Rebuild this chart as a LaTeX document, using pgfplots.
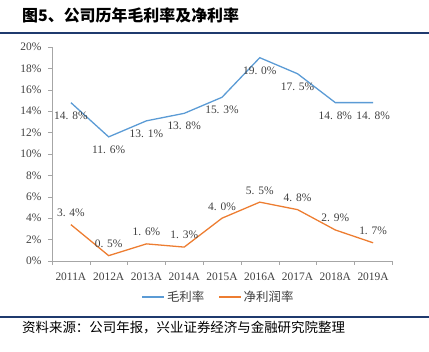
\documentclass[border=0pt]{standalone}
\usepackage{fontspec}
\setmainfont{Liberation Serif}
\newfontfamily\cjk{Noto Sans CJK SC}
\usepackage{pgfplots}
\pgfplotsset{compat=1.18}
\definecolor{cblue}{HTML}{5B9BD5}
\definecolor{corange}{HTML}{ED7D31}
\definecolor{rule}{HTML}{1F3A6E}
\definecolor{axgray}{HTML}{A6A6A6}
\definecolor{txt}{HTML}{404040}
\begin{document}
\begin{tikzpicture}
\path[use as bounding box] (0bp,0bp) rectangle (429bp,352bp);
% title and rules
\node[anchor=west, inner sep=0pt] at (22bp,337bp) {\cjk\bfseries\fontsize{16}{18}\selectfont 图5、公司历年毛利率及净利率};
\fill[rule] (0bp,318bp) rectangle (429bp,320bp);
\fill[rule] (0bp,34bp) rectangle (429bp,36bp);
\node[anchor=west, inner sep=0pt] at (22bp,24bp) {\cjk\fontsize{13.5}{15}\selectfont 资料来源：公司年报，兴业证券经济与金融研究院整理};
\begin{axis}[
  at={(52bp,91bp)}, anchor=south west,
  scale only axis, width=340bp, height=214bp,
  xmin=-0.5, xmax=8.5, ymin=0, ymax=20,
  axis x line*=bottom, axis y line*=left,
  axis line style={axgray, -},
  xtick={0,...,8},
  xticklabels={2011A,2012A,2013A,2014A,2015A,2016A,2017A,2018A,2019A},
  major x tick style={draw=none},
  minor xtick={-0.5,0.5,...,8.5},
  minor x tick style={axgray},
  minor tick length=4bp,
  ytick={0,2,...,20},
  yticklabel={\pgfmathprintnumber{\tick}\%},
  y tick style={axgray},
  major tick length=4bp,
  tick align=outside,
  ticklabel style={font=\fontsize{11.5}{13}\selectfont, text=txt},
  /pgf/number format/assume math mode=true,
  xticklabel style={yshift=-4bp},
  yticklabel style={xshift=-3bp},
  point meta=explicit symbolic,
  nodes near coords,
  every node near coord/.append style={font=\fontsize{11.5}{13}\selectfont, text=txt},
  legend style={at={(0.49,-0.168)}, anchor=center, draw=none, legend columns=2,
    font=\cjk\fontsize{12.5}{14}\selectfont, text=txt,
    /tikz/every even column/.append style={column sep=12bp}},
  legend image code/.code={\draw[#1, line width=1.3pt] (0bp,0bp) -- (22bp,0bp);},
]
\addplot[cblue, line width=1.3pt, every node near coord/.append style={anchor=north, yshift=-5bp}] coordinates {
 (0,14.8) [14. 8\%] (1,11.6) [11. 6\%] (2,13.1) [13. 1\%] (3,13.8) [13. 8\%] (4,15.3) [15. 3\%]
 (5,19.0) [19. 0\%] (6,17.5) [17. 5\%] (7,14.8) [14. 8\%] (8,14.8) [14. 8\%]};
\addlegendentry{毛利率}
\addplot[corange, line width=1.3pt, every node near coord/.append style={anchor=south, yshift=4bp}] coordinates {
 (0,3.4) [3. 4\%] (1,0.5) [0. 5\%] (2,1.6) [1. 6\%] (3,1.3) [1. 3\%] (4,4.0) [4. 0\%]
 (5,5.5) [5. 5\%] (6,4.8) [4. 8\%] (7,2.9) [2. 9\%] (8,1.7) [1. 7\%]};
\addlegendentry{净利润率}
\end{axis}
\end{tikzpicture}
\end{document}
